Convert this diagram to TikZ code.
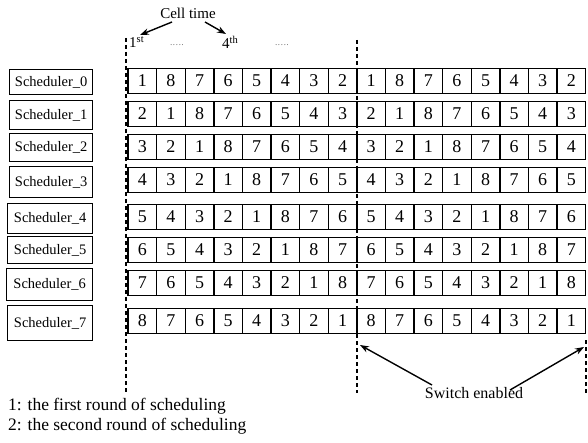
\documentclass[tikz,border=0pt]{standalone}
\usepackage{fontspec}
\setmainfont{Liberation Serif}
\usetikzlibrary{arrows.meta}
\begin{document}
\begin{tikzpicture}[x=1pt,y=-1pt,
  sched/.style={draw, line width=1.4pt, inner sep=0pt, anchor=north west, font=\fontsize{14.5}{16}\selectfont},
  cell/.style={draw, line width=1.4pt, minimum width=28.6pt, minimum height=25pt, inner sep=0pt, font=\fontsize{18}{20}\selectfont},
  guide/.style={line width=1.3pt, dash pattern=on 4pt off 3pt},
  arr/.style={line width=1.4pt, -{Stealth[length=9pt,width=6.5pt]}},
  lbl/.style={font=\fontsize{15}{17}\selectfont, inner sep=0pt},
  note/.style={font=\fontsize{17.5}{19}\selectfont, inner sep=0pt, anchor=west}]
\useasboundingbox (0,0) rectangle (588,443);
% scheduler boxes
\foreach \i/\l/\t/\b in {0/9/69/94,1/9/100/129,2/9/133/161,3/9/166/197,4/7/203/233,5/7/236/263,6/6/268/300,7/7/305/340}{
  \pgfmathsetmacro\w{92-\l}
  \pgfmathsetmacro\h{\b-\t}
  \node[sched, minimum width=\w pt, minimum height=\h pt] (s\i) at (\l,\t) {Scheduler\_\i};
}
% cells
\foreach \r/\yc in {0/81,1/114,2/147,3/180,4/217,5/250,6/283,7/321}{
  \foreach \c in {0,...,15}{
    \pgfmathtruncatemacro\v{mod(\r-\c+16,8)+1}
    \node[cell] (c\r-\c) at ({128+28.6*(\c+0.5)},\yc) {\v};
  }
}
% dashed guides
\coordinate (g1t) at (126,38); \coordinate (g1b) at (126,392);
\coordinate (g2t) at (357,40); \coordinate (g2b) at (357,393);
\coordinate (g3t) at (586,340); \coordinate (g3b) at (586,395);
\draw[guide] (g1t) -- (g1b);
\draw[guide] (g2t) -- (g2b);
\draw[guide] (g3t) -- (g3b);
% top labels
\node[lbl] (ct) at (188,13) {Cell time};
\node[lbl, anchor=west] (first) at (129,42) {1\textsuperscript{st}};
\node[lbl, anchor=west] (fourth) at (222,42) {4\textsuperscript{th}};
\node[lbl] (d1) at (177,45) {\fontsize{7}{7}\selectfont .\,.\,.\,.\,.};
\node[lbl] (d2) at (282,45) {\fontsize{7}{7}\selectfont .\,.\,.\,.\,.};
\coordinate (a1s) at (172,22); \coordinate (a1e) at (140,35);
\coordinate (a2s) at (205,22); \coordinate (a2e) at (226,34);
\draw[arr] (a1s) -- (a1e);
\draw[arr] (a2s) -- (a2e);
% switch enabled
\node[lbl, font=\fontsize{16}{18}\selectfont] (sw) at (474,393) {Switch enabled};
\coordinate (b1s) at (432,385); \coordinate (b1e) at (360,345);
\coordinate (b2s) at (510,390); \coordinate (b2e) at (584,347);
\draw[arr] (b1s) -- (b1e);
\draw[arr] (b2s) -- (b2e);
% notes
\node[note] (n1) at (8,406) {1: the first round of scheduling};
\node[note] (n2) at (8,426) {2: the second round of scheduling};
\end{tikzpicture}
\end{document}
